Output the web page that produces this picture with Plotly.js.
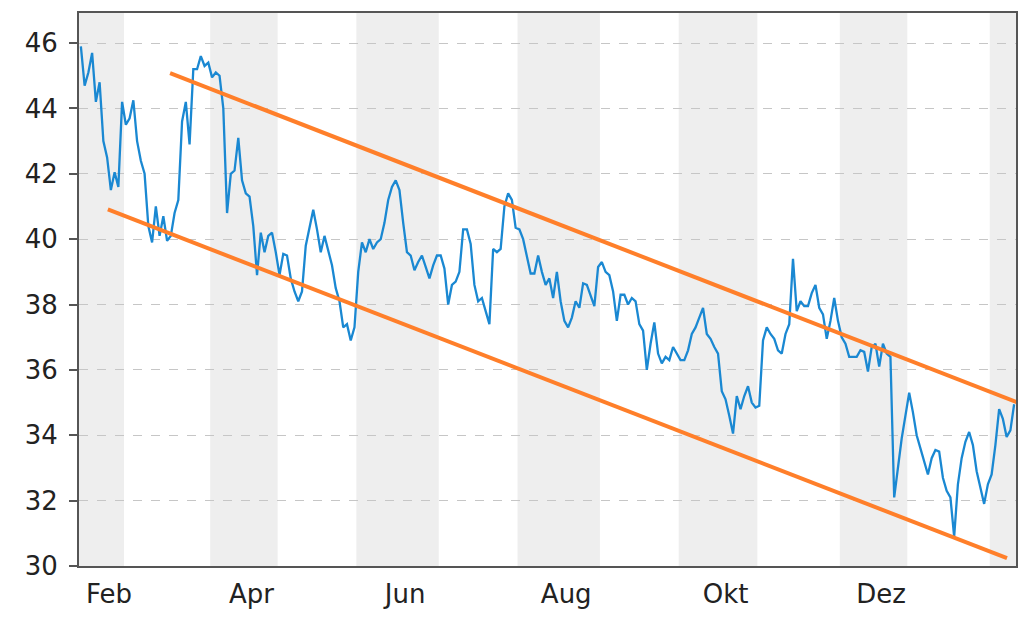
<!DOCTYPE html>
<html>
<head>
<meta charset="utf-8">
<script src="https://cdn.plot.ly/plotly-3.0.1.min.js"></script>
<style>
  html, body { margin: 0; padding: 0; background: #ffffff; }
  #chart { width: 1023px; height: 621px; }
</style>
</head>
<body>
<div id="chart"></div>
<script>
// Daily closing prices (one value per trading day)
const price = [
  45.9, 44.7, 45.1, 45.7, 44.2, 44.8, 43.0, 42.5, 41.5, 42.05,
  41.6, 44.2, 43.5, 43.7, 44.25, 43.0, 42.4, 42.0, 40.4, 39.9,
  41.0, 40.1, 40.7, 39.95, 40.1, 40.8, 41.2, 43.6, 44.2, 42.9,
  45.2, 45.2, 45.6, 45.3, 45.4, 44.95, 45.1, 45.0, 44.0, 40.8,
  42.0, 42.1, 43.1, 41.8, 41.4, 41.3, 40.4, 38.9, 40.2, 39.6,
  40.1, 40.2, 39.6, 38.9, 39.55, 39.5, 38.8, 38.4, 38.1, 38.4,
  39.8, 40.3, 40.9, 40.3, 39.6, 40.1, 39.6, 39.2, 38.5, 38.1,
  37.3, 37.4, 36.9, 37.3, 39.0, 39.9, 39.6, 40.0, 39.7, 39.9,
  40.0, 40.5, 41.2, 41.6, 41.8, 41.5, 40.5, 39.6, 39.5, 39.05,
  39.3, 39.5, 39.15, 38.8, 39.2, 39.5, 39.5, 39.1, 38.0, 38.6,
  38.7, 39.0, 40.3, 40.3, 39.85, 38.6, 38.1, 38.2, 37.8, 37.4,
  39.7, 39.6, 39.7, 41.0, 41.4, 41.2, 40.35, 40.3, 40.0, 39.5,
  38.95, 38.95, 39.5, 39.0, 38.6, 38.8, 38.2, 39.0, 38.1, 37.5,
  37.3, 37.6, 38.1, 37.9, 38.65, 38.6, 38.3, 37.95, 39.15, 39.3,
  39.0, 38.9, 38.4, 37.5, 38.3, 38.3, 38.0, 38.2, 38.1, 37.4,
  37.2, 36.0, 36.8, 37.45, 36.5, 36.2, 36.4, 36.3, 36.7, 36.5,
  36.3, 36.3, 36.6, 37.1, 37.3, 37.6, 37.9, 37.1, 36.95, 36.7,
  36.5, 35.35, 35.1, 34.6, 34.05, 35.2, 34.8, 35.2, 35.5, 35.0,
  34.85, 34.9, 36.9, 37.3, 37.1, 36.95, 36.6, 36.5, 37.1, 37.4,
  39.4, 37.8, 38.1, 37.95, 37.95, 38.35, 38.6, 37.9, 37.7, 36.95,
  37.5, 38.2, 37.5, 37.0, 36.8, 36.4, 36.4, 36.4, 36.6, 36.55,
  35.95, 36.7, 36.8, 36.1, 36.8, 36.5, 36.4, 32.1, 33.0, 33.9,
  34.6, 35.3, 34.7, 34.0, 33.6, 33.2, 32.8, 33.3, 33.55, 33.5,
  32.7, 32.3, 32.1, 30.9, 32.5, 33.3, 33.8, 34.1, 33.7, 32.9,
  32.4, 31.9, 32.5, 32.8, 33.7, 34.8, 34.5, 33.95, 34.15, 34.95
];

// Month names and the trading-day index at which each month begins
const monthNames = ['Feb', 'Mär', 'Apr', 'Mai', 'Jun', 'Jul', 'Aug', 'Sep', 'Okt', 'Nov', 'Dez', 'Jan', 'Feb'];
const monthStart = [0, 12, 35, 53, 74, 96, 117, 139, 160, 181, 203, 221, 243];

// Trend channel (trading-day index, price)
const upperX = [23.8, 250.6];
const upperY = [45.08, 34.97];
const lowerX = [7.2, 247.1];
const lowerY = [40.91, 30.24];

// Y tick values
const yTicks = [30, 32, 34, 36, 38, 40, 42, 44, 46];

const days = price.map((_, i) => i);
const lastDay = price.length - 0.5;

// Shaded bands for every second month, and labels for those months
const shapes = [];
const tickvals = [];
const ticktext = [];
for (let m = 0; m < monthStart.length; m += 2) {
  const x0 = monthStart[m] - 0.5;
  const x1 = (m + 1 < monthStart.length) ? monthStart[m + 1] - 0.5 : lastDay;
  shapes.push({
    type: 'rect', xref: 'x', yref: 'paper', x0: x0, x1: x1, y0: 0, y1: 1,
    fillcolor: 'rgba(234,234,234,0.82)', line: { width: 0 }, layer: 'between'
  });
  if (m + 1 < monthStart.length) {
    tickvals.push((x0 + x1) / 2 + 2);
    ticktext.push(monthNames[m]);
  }
}

const traces = [
  {
    x: days, y: price, type: 'scatter', mode: 'lines',
    line: { color: '#1a88d2', width: 2.3 }, hoverinfo: 'skip'
  },
  {
    x: upperX, y: upperY, type: 'scatter', mode: 'lines',
    line: { color: '#ff7f2a', width: 4 }, hoverinfo: 'skip'
  },
  {
    x: lowerX, y: lowerY, type: 'scatter', mode: 'lines',
    line: { color: '#ff7f2a', width: 4 }, hoverinfo: 'skip'
  }
];

const font = { family: 'DejaVu Sans, Verdana, sans-serif', size: 26, color: '#222222' };

const layout = {
  width: 1023, height: 621,
  margin: { l: 79, r: 7, t: 13, b: 55, pad: 0 },
  paper_bgcolor: '#ffffff',
  plot_bgcolor: '#ffffff',
  showlegend: false,
  shapes: shapes,
  xaxis: {
    range: [-0.5, lastDay],
    tickmode: 'array', tickvals: tickvals, ticktext: ticktext,
    ticks: '', showgrid: false, zeroline: false,
    showline: true, mirror: true, linecolor: '#555555', linewidth: 2,
    tickfont: font, ticklabelstandoff: 4
  },
  yaxis: {
    range: [30, 46.92],
    tickmode: 'array', tickvals: yTicks, ticktext: yTicks.map(String),
    ticks: 'outside', ticklen: 8, tickwidth: 2, tickcolor: '#555555',
    showgrid: true, gridcolor: '#c6c6c6', gridwidth: 1, griddash: 'dash',
    zeroline: false,
    showline: true, mirror: true, linecolor: '#555555', linewidth: 2,
    tickfont: font, ticklabelstandoff: 6
  }
};

Plotly.newPlot('chart', traces, layout, { staticPlot: true, displayModeBar: false });
</script>
</body>
</html>
